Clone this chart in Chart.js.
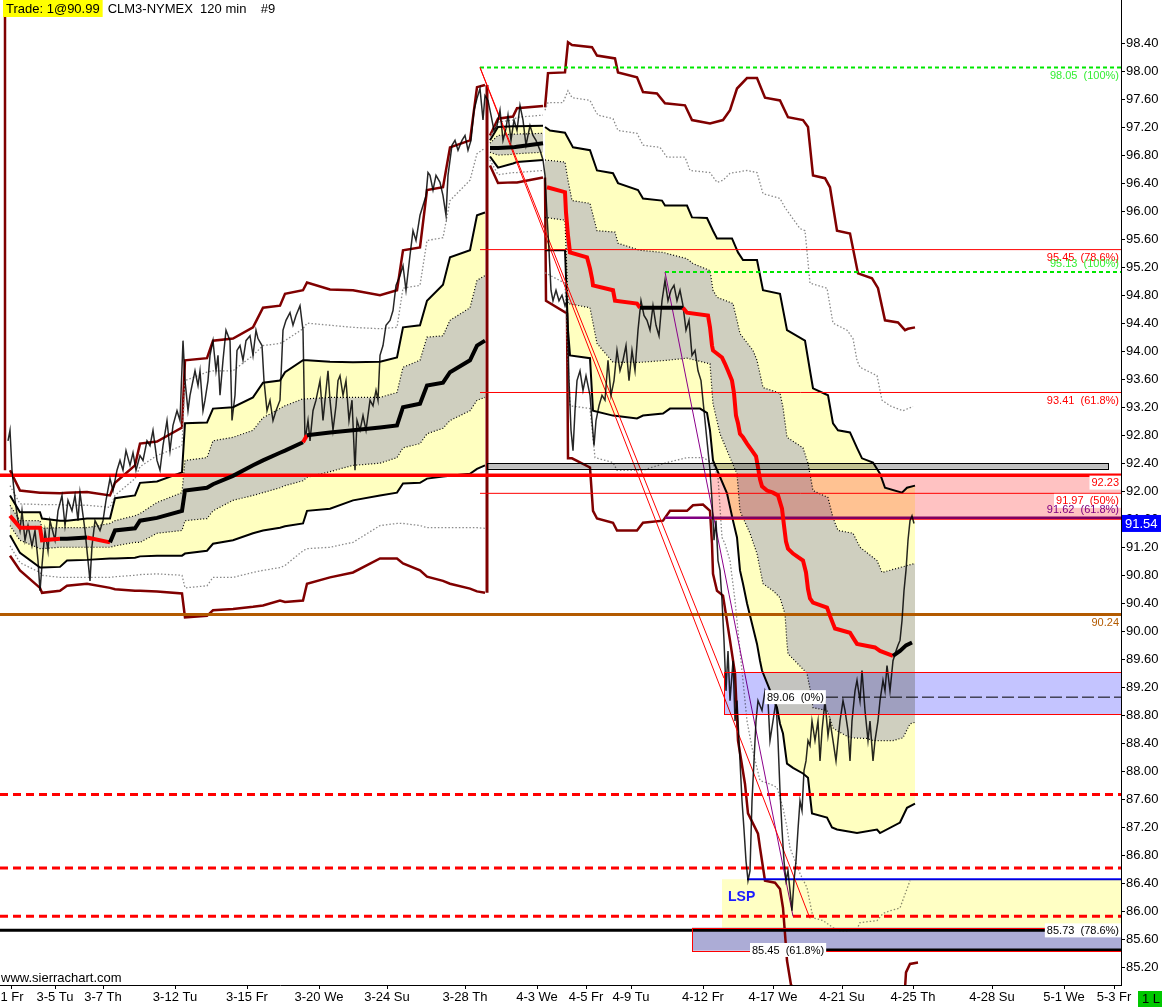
<!DOCTYPE html>
<html>
<head>
<meta charset="utf-8">
<title>CLM3-NYMEX 120 min</title>
<style>
  html, body { margin: 0; padding: 0; background: #fff; }
  canvas { display: block; }
</style>
<script src="https://cdn.jsdelivr.net/npm/chart.js@4.4.1/dist/chart.umd.min.js"></script>
</head>
<body>
<canvas id="chart" width="1162" height="1007"></canvas>
<script>
// x values are bar slot positions on the time axis, y values are prices
const xMax = 1121;
const yMin = 84.95;
const yMax = 99.014;

const tickPos = [12, 55, 103, 175, 247, 319, 387, 465, 537, 586, 631, 703, 773, 842, 913, 992, 1064, 1114];
const tickLabels = ['1 Fr', '3-5 Tu', '3-7 Th', '3-12 Tu', '3-15 Fr', '3-20 We', '3-24 Su', '3-28 Th', '4-3 We',
  '4-5 Fr', '4-9 Tu', '4-12 Fr', '4-17 We', '4-21 Su', '4-25 Th', '4-28 Su', '5-1 We', '5-3 Fr'];
const yTicks = [85.2, 85.6, 86.0, 86.4, 86.8, 87.2, 87.6, 88.0, 88.4, 88.8, 89.2, 89.6, 90.0, 90.4, 90.8, 91.2,
  91.6, 92.0, 92.4, 92.8, 93.2, 93.6, 94.0, 94.4, 94.8, 95.2, 95.6, 96.0, 96.4, 96.8, 97.2, 97.6, 98.0, 98.4];

// price path (close / swing points)
const price = [
  [8,92.72],[10,92.87],[12,92.30],[15,91.87],[18,91.58],[20,91.44],[22,91.72],[25,91.30],[28,91.51],[32,91.22],
  [35,91.44],[38,91.01],[40,90.58],[42,90.94],[45,91.44],[48,91.15],[50,91.58],[55,91.30],[58,91.72],[62,91.94],
  [65,91.51],[68,91.87],[72,91.72],[75,91.94],[78,91.58],[80,91.98],[85,91.44],[88,91.01],[90,90.72],[92,91.22],
  [95,91.58],[100,91.44],[103,91.58],[106,91.87],[110,92.18],[113,92.01],[117,92.30],[120,92.44],[123,92.30],[126,92.58],
  [130,92.37],[133,92.55],[136,92.30],[140,92.51],[143,92.44],[147,92.72],[150,92.65],[153,92.87],[157,92.44],[160,92.30],
  [163,92.65],[167,93.01],[170,92.58],[173,92.94],[177,93.15],[180,93.01],[183,94.15],[185,93.58],[188,93.15],[190,93.37],
  [195,93.72],[198,93.51],[200,93.72],[203,93.15],[205,93.30],[208,93.58],[210,93.94],[213,94.15],[216,93.72],[218,93.94],
  [220,93.37],[223,93.87],[226,94.30],[230,94.15],[232,93.01],[235,93.37],[237,94.01],[240,94.08],[243,93.87],[246,94.15],
  [250,94.22],[253,93.94],[256,94.30],[258,94.18],[262,94.08],[264,93.58],[267,93.15],[270,93.30],[273,93.01],[276,93.15],
  [280,93.30],[283,94.30],[286,94.44],[290,94.55],[293,94.37],[296,94.51],[300,94.65],[303,94.30],[305,92.72],[308,93.01],
  [310,92.72],[313,93.15],[316,93.30],[320,93.58],[323,93.01],[326,93.44],[328,93.72],[330,93.30],[333,92.87],[336,93.22],
  [338,93.58],[340,93.65],[343,93.37],[346,93.58],[349,93.01],[352,93.30],[355,92.30],[357,93.01],[360,92.87],[363,93.08],
  [366,92.87],[370,93.30],[373,93.22],[376,93.44],[378,93.30],[380,93.94],[383,94.08],[386,94.37],[390,94.44],[393,94.58],
  [396,94.94],[400,95.08],[403,95.22],[406,94.87],[410,95.37],[413,95.72],[416,95.58],[420,95.94],[423,96.08],[426,96.22],
  [428,96.55],[430,96.51],[433,96.30],[436,96.51],[440,96.41],[443,96.22],[446,95.94],[448,96.51],[452,96.94],[455,97.01],
  [458,96.87],[462,97.01],[465,97.08],[468,96.87],[471,97.01],[474,97.44],[477,97.61],[480,97.75],[483,97.30],[485,97.65],
  [488,97.58],[491,97.37],[494,97.15],[497,97.22],[500,97.44],[503,97.01],[506,97.18],[508,97.37],[511,97.01],[514,97.30],
  [517,97.15],[520,97.51],[523,97.30],[526,96.94],[530,97.22],[533,97.08],[536,97.01],[540,96.87],[543,96.73],[545,96.51],
  [547,95.94],[549,95.44],[551,94.87],[553,94.72],[556,94.87],[559,94.72],[562,94.80],[565,94.65],[567,94.72],[569,93.58],
  [571,92.87],[573,92.58],[575,93.15],[577,93.58],[580,93.72],[583,93.44],[586,93.65],[590,93.37],[592,93.01],[594,92.65],
  [596,93.01],[599,93.22],[602,93.37],[605,93.30],[608,93.87],[611,93.37],[614,93.58],[617,94.01],[620,93.72],[623,93.87],
  [626,94.08],[629,93.58],[632,94.01],[635,93.72],[638,94.30],[641,94.72],[644,94.51],[647,94.44],[650,94.30],[653,94.65],
  [656,94.37],[659,94.22],[662,94.72],[665,95.01],[668,94.72],[671,94.87],[674,94.94],[677,94.72],[680,94.87],[683,94.65],
  [686,94.30],[689,94.44],[692,93.94],[695,94.01],[698,93.72],[701,93.58],[704,93.15],[707,92.72],[710,92.30],[712,91.87],
  [714,91.30],[716,91.58],[718,91.01],[720,90.87],[722,90.44],[724,89.87],[726,89.15],[728,89.72],[730,89.01],[733,89.58],
  [735,88.72],[737,89.01],[740,88.15],[742,87.58],[744,87.17],[746,86.72],[748,86.44],[750,86.58],[752,87.58],[754,88.15],
  [756,88.72],[758,89.01],[760,88.94],[762,88.87],[765,89.15],[768,89.01],[770,88.44],[773,88.72],[776,89.01],[778,88.44],
  [780,87.72],[782,87.17],[784,86.72],[786,86.44],[788,86.58],[790,86.30],[792,86.01],[794,86.44],[796,86.72],[798,87.17],
  [800,87.58],[802,87.44],[804,88.01],[806,88.15],[808,88.44],[810,88.37],[812,88.72],[815,88.44],[818,88.72],[820,88.15],
  [822,88.58],[825,89.01],[828,88.51],[830,88.72],[833,88.44],[836,88.15],[838,88.44],[840,88.72],[843,89.01],[845,88.87],
  [848,88.58],[850,88.15],[852,88.72],[855,89.15],[857,89.30],[860,89.01],[862,89.44],[865,88.87],[868,88.44],[870,88.72],
  [873,88.15],[875,88.44],[878,88.72],[880,89.01],[883,89.30],[885,89.15],[887,89.51],[890,89.15],[893,89.58],[896,89.72],
  [898,89.80],[900,89.87],[902,90.15],[904,90.58],[906,90.87],[908,91.30],[910,91.58],[912,91.65],[914,91.54]
];

// anchored VWAP session 1 (3-1 .. 3-28)
const xA = [10,20,40,42,60,67,87,110,115,135,140,157,182,185,207,213,233,253,263,280,285,303,307,330,353,380,397,403,420,427,443,450,470,477,485];
const outerUpA = [92.30,92.01,91.98,91.98,91.97,91.98,91.99,91.94,92.12,92.37,92.68,92.71,92.91,93.87,93.90,94.15,94.18,94.34,94.62,94.65,94.82,94.87,94.98,94.88,94.87,94.80,94.87,95.44,95.48,96.30,96.34,96.91,97.01,97.77,97.80];
const grayUpA = [92.08,91.82,91.81,91.81,91.81,91.80,91.80,91.77,91.94,92.18,92.35,92.51,92.65,93.58,93.70,93.72,93.72,93.94,94.08,94.11,94.15,94.32,94.40,94.37,94.34,94.32,94.34,94.90,94.94,95.58,95.62,96.15,96.44,96.82,96.90];
const band2UpA = [91.94,91.70,91.70,91.61,91.58,91.58,91.61,91.61,91.90,91.94,92.12,92.14,92.27,92.97,92.98,93.18,93.20,93.34,93.55,93.58,93.70,93.87,93.87,93.85,93.84,93.85,93.91,94.34,94.37,94.72,94.95,95.34,95.44,95.94,95.98];
const band1UpA = [91.80,91.58,91.58,91.47,91.48,91.48,91.48,91.54,91.58,91.65,91.68,91.84,91.98,92.44,92.48,92.72,92.77,92.87,93.05,93.18,93.22,93.32,93.32,93.34,93.34,93.34,93.41,93.77,93.87,94.20,94.22,94.44,94.62,95.01,95.08];
const vwapA = [91.65,91.48,91.48,91.30,91.32,91.32,91.34,91.27,91.44,91.47,91.58,91.62,91.72,92.01,92.05,92.10,92.22,92.37,92.44,92.55,92.58,92.70,92.80,92.84,92.87,92.91,92.94,93.20,93.25,93.51,93.55,93.70,93.87,94.08,94.15];
const band1LoA = [91.51,91.30,91.18,91.18,91.20,91.20,91.20,91.20,91.22,91.27,91.27,91.40,91.44,91.58,91.61,91.72,91.87,91.94,91.98,92.05,92.08,92.15,92.20,92.28,92.37,92.40,92.48,92.62,92.68,92.82,92.90,93.01,93.15,93.30,93.34];
const band2LoA = [91.37,91.12,90.91,90.91,90.92,91.01,91.02,91.04,91.04,91.05,91.07,91.08,91.08,91.11,91.15,91.25,91.30,91.40,91.44,91.48,91.50,91.54,91.72,91.75,91.87,91.94,91.98,92.11,92.12,92.18,92.21,92.22,92.25,92.32,92.37];
const grayLoA = [91.22,90.98,90.84,90.80,90.77,90.77,90.77,90.77,90.78,90.80,90.81,90.82,90.80,90.62,90.65,90.77,90.77,90.84,90.87,90.91,90.94,91.15,91.18,91.20,91.27,91.51,91.54,91.54,91.51,91.48,91.48,91.48,91.48,91.48,91.47];
const outerLoA = [91.08,90.87,90.62,90.55,90.58,90.65,90.68,90.62,90.60,90.58,90.58,90.57,90.54,90.20,90.22,90.30,90.32,90.35,90.37,90.44,90.42,90.44,90.68,90.77,90.84,91.04,91.04,90.97,90.87,90.78,90.72,90.68,90.61,90.57,90.55];
const vwapRedA = [[10, 58], [87, 100], [303, 308], [352, 366]];

// session 2 (3-28 .. 4-3)
const xB = [490, 498, 513, 517, 543];
const outerUpB = [97.08, 97.32, 97.35, 97.47, 97.50];
const grayUpB = [97.05, 97.27, 97.30, 97.34, 97.37];
const band2UpB = [97.01, 97.20, 97.21, 97.21, 97.22];
const band1UpB = [96.97, 97.08, 97.10, 97.10, 97.11];
const vwapB = [96.90, 96.90, 96.91, 96.92, 96.97];
const band1LoB = [96.84, 96.80, 96.81, 96.82, 96.84];
const band2LoB = [96.78, 96.62, 96.68, 96.70, 96.73];
const grayLoB = [96.73, 96.52, 96.55, 96.55, 96.58];
const outerLoB = [96.65, 96.40, 96.41, 96.41, 96.48];

// session 3 (4-3 ..)
const outerUpC = [[545,97.48],[548,97.97],[565,97.98],[568,98.41],[572,98.37],[592,98.34],[597,98.22],[615,98.18],[618,97.98],[637,97.91],[643,97.70],[657,97.68],[665,97.54],[685,97.51],[692,97.30],[710,97.25],[723,97.30],[730,97.44],[737,97.75],[747,97.90],[757,97.90],[765,97.62],[780,97.58],[788,97.34],[803,97.30],[808,97.20],[813,96.51],[825,96.47],[830,96.34],[837,95.72],[850,95.68],[858,95.11],[872,95.04],[878,94.90],[885,94.44],[898,94.41],[905,94.30],[908,94.32],[915,94.34]];
const grayUpC = [[545,97.44],[548,97.55],[563,97.55],[568,97.72],[572,97.62],[590,97.58],[595,97.44],[598,97.37],[613,97.32],[618,97.15],[637,97.11],[643,96.94],[660,96.91],[667,96.77],[685,96.77],[690,96.58],[710,96.55],[717,96.41],[723,96.44],[730,96.54],[747,96.58],[757,96.55],[763,96.25],[780,96.18],[785,96.05],[800,95.75],[805,95.72],[810,94.97],[827,94.90],[833,94.40],[847,94.30],[853,94.18],[857,93.87],[860,93.77],[877,93.65],[882,93.30],[890,93.22],[903,93.15],[913,93.21]];
const band2UpC = [[545,97.20],[550,97.15],[565,97.12],[573,96.91],[590,96.87],[597,96.58],[613,96.54],[618,96.40],[638,96.30],[643,96.18],[662,96.15],[665,96.08],[687,96.08],[692,95.91],[707,95.90],[713,95.72],[717,95.61],[732,95.61],[738,95.41],[743,95.30],[757,95.30],[763,94.87],[780,94.82],[787,94.30],[805,94.15],[810,93.72],[813,93.47],[828,93.37],[833,92.97],[838,92.87],[850,92.84],[857,92.62],[862,92.47],[873,92.41],[880,92.25],[885,92.05],[902,91.98],[907,92.05],[915,92.08]];
const band1UpC = [[545,96.73],[565,96.70],[568,96.44],[572,96.15],[590,96.11],[597,95.72],[615,95.70],[618,95.54],[640,95.44],[663,95.41],[687,95.32],[693,95.25],[710,95.15],[713,94.87],[717,94.77],[733,94.68],[737,94.44],[740,94.25],[753,94.01],[757,93.87],[763,93.48],[780,93.40],[783,93.20],[787,92.77],[803,92.62],[808,92.40],[813,92.01],[828,91.91],[833,91.62],[838,91.44],[853,91.40],[860,91.20],[877,91.01],[882,90.84],[915,90.97]];
const vwapC = [[547,96.34],[565,96.27],[566,95.98],[568,95.65],[570,95.41],[587,95.34],[590,95.18],[592,95.04],[593,94.94],[613,94.87],[615,94.72],[637,94.68],[640,94.62],[683,94.62],[687,94.55],[708,94.51],[710,94.34],[712,94.08],[713,94.01],[722,93.91],[725,93.82],[728,93.72],[732,93.58],[734,93.40],[736,93.08],[738,92.97],[740,92.82],[743,92.77],[747,92.68],[752,92.58],[756,92.50],[758,92.34],[760,92.17],[762,92.07],[767,92.01],[773,91.98],[778,91.94],[782,91.75],[784,91.51],[786,91.28],[788,91.18],[793,91.11],[803,91.01],[806,90.84],[808,90.60],[810,90.47],[813,90.41],[827,90.34],[830,90.22],[833,90.11],[835,90.04],[850,89.98],[853,89.91],[857,89.82],[875,89.77],[880,89.72],[893,89.65],[900,89.72],[906,89.80],[912,89.84]];
const band1LoC = [[545,95.91],[565,95.87],[568,94.68],[590,94.62],[597,94.11],[613,93.84],[640,93.84],[667,93.87],[687,93.90],[710,93.82],[713,93.25],[720,92.82],[730,92.48],[737,92.25],[740,91.72],[743,91.62],[750,91.40],[757,91.11],[763,90.68],[773,90.58],[780,90.48],[785,90.25],[787,89.82],[788,89.68],[807,89.40],[810,89.18],[813,88.91],[827,88.87],[833,88.62],[837,88.58],[850,88.48],[867,88.47],[873,88.44],[893,88.44],[903,88.48],[910,88.68],[915,88.70]];
const band2LoC = [[545,95.44],[565,95.44],[568,94.30],[570,93.94],[590,93.90],[593,93.15],[613,93.08],[637,93.04],[643,93.08],[663,93.11],[670,93.18],[700,93.18],[707,93.12],[710,92.87],[713,92.44],[727,91.97],[733,91.58],[737,91.34],[740,90.87],[743,90.68],[747,90.40],[757,89.82],[760,89.58],[762,89.44],[777,88.91],[780,88.68],[783,88.54],[787,88.11],[793,88.05],[803,87.97],[808,87.91],[812,87.40],[827,87.34],[832,87.20],[837,87.17],[857,87.12],[877,87.17],[880,87.12],[900,87.27],[907,87.48],[915,87.54]];
const grayLoC = [[545,95.12],[565,94.97],[570,93.22],[590,93.18],[595,92.48],[613,92.41],[617,92.30],[643,92.30],[667,92.41],[687,92.48],[703,92.48],[713,92.40],[718,92.20],[722,91.34],[725,91.25],[730,91.01],[735,90.44],[740,89.72],[747,88.72],[752,88.34],[760,87.87],[770,87.82],[777,87.77],[783,87.48],[787,87.20],[790,86.91],[800,86.54],[807,86.34],[813,85.91],[823,85.87],[833,85.77],[840,85.72],[847,85.72],[857,85.75],[860,85.84],[877,85.87],[883,85.97],[890,86.01],[900,86.05],[910,86.44]];
const outerLoC = [[545,96.48],[546,94.72],[567,94.54],[568,92.47],[572,92.47],[590,92.34],[593,91.72],[597,91.61],[613,91.55],[617,91.44],[637,91.44],[643,91.55],[663,91.58],[670,91.72],[687,91.72],[693,91.80],[703,91.81],[710,91.72],[712,91.25],[713,90.82],[717,90.58],[723,90.51],[730,89.87],[735,89.40],[738,88.44],[745,87.82],[748,87.40],[758,87.11],[760,86.91],[765,86.44],[775,86.41],[780,86.32],[783,86.05],[785,85.68],[787,85.30],[791,84.95],[795,84.90],[830,84.58],[880,84.58],[905,84.90],[906,85.13],[910,85.25],[918,85.27]];
const vwapBlackC = [[640, 684], [893, 915]];

const prevUpper = [[5, 99.2], [5, 92.30]];
const sessionBreak = [[487, 97.80], [487, 90.55]];

// horizontal levels
const levelPrice = [98.05, 95.45, 95.13, 93.41, 92.23, 91.97, 91.62, 91.60, 90.24, 89.06, 87.67, 86.62, 86.46, 85.93, 85.73, 85.45];
const levelFrom  = [480, 480, 665, 480, 0, 480, 665, 712, 0, 826, 0, 0, 747, 0, 0, 826];
const levelTo    = [1121, 1121, 1121, 1121, 1121, 1121, 1121, 1121, 1121, 1121, 1121, 1121, 1121, 1121, 1048, 1121];

// fibonacci swing lines
const swingA = [[480, 98.05], [724, 89.33]];
const swingB = [[480, 98.05], [810, 85.90]];
const swingC = [[665, 95.13], [793, 85.93]];

// zones
const zoneTop    = [92.40, 92.23, 89.42, 86.46, 85.77];
const zoneBottom = [92.32, 91.60, 88.82, 85.77, 85.44];
const zoneFrom   = [487, 712, 724, 722, 692];
const zoneTo     = [1108, 1121, 1121, 1121, 1121];

// level labels
const fibPrices = [98.05, 95.45, 95.13, 93.41, 91.97, 91.62, 89.06, 85.73, 85.45];
const fibRatios = ['100%', '78.6%', '100%', '61.8%', '50%', '61.8%', '0%', '78.6%', '61.8%'];
const plainLevels = [92.23, 90.24];
const lastPrice = 91.54;

// ---- styles ----
const levelStyle = [
  { c: '#00e600', w: 2, d: [4, 3] },
  { c: '#ff0000', w: 1 },
  { c: '#00e600', w: 2, d: [4, 3] },
  { c: '#ff0000', w: 1 },
  { c: '#ff0000', w: 3.5 },
  { c: '#ff0000', w: 1 },
  { c: '#800080', w: 2.5 },
  { c: '#ff0000', w: 1 },
  { c: '#b35a00', w: 3 },
  { c: '#000000', w: 1, d: [12, 4] },
  { c: '#ff0000', w: 3, d: [8, 5] },
  { c: '#ff0000', w: 3, d: [8, 5] },
  { c: '#0000ff', w: 2 },
  { c: '#ff0000', w: 3, d: [8, 5] },
  { c: '#000000', w: 3 },
  { c: '#000000', w: 3 }
];
const zoneFill = ['#c0c0c0', '#ffc2c2', '#c4c4ff', '#ffffc4', '#acacd6'];
const zoneUnder = [false, false, false, false, true];
const zoneEdge = ['#000000', null, '#ff0000', null, '#ff0000'];
const fibStyle = [
  { c: '#33ee33', side: 'below' },
  { c: '#ff0000', side: 'below' },
  { c: '#33ee33', side: 'above' },
  { c: '#ff0000', side: 'below' },
  { c: '#ff0000', side: 'below', bg: '#ffffff' },
  { c: '#800080', side: 'above' },
  { c: '#000000', side: 'on', at: 767, bg: '#ffffff' },
  { c: '#000000', side: 'on', bg: '#ffffff' },
  { c: '#000000', side: 'on', at: 752, bg: '#ffffff' }
];
const plainStyle = [
  { c: '#ff0000', side: 'below', bg: '#ffffff' },
  { c: '#b35a00', side: 'below' }
];

const toPts = arr => arr.map(([x, y]) => ({ x, y }));
const zip = (xs, ys) => xs.map((x, i) => ({ x, y: ys[i] }));
const inSpans = (spans, c) => {
  const m = (c.p0.parsed.x + c.p1.parsed.x) / 2;
  return spans.some(([a, b]) => m >= a && m <= b);
};

const datasets = [];
function add(data, color, width, extra) {
  datasets.push(Object.assign({
    data: data, borderColor: color, borderWidth: width, pointRadius: 0,
    tension: 0, fill: false, order: 80, borderCapStyle: 'butt'
  }, extra || {}));
}

function session(outerUp, grayUp, band2Up, band1Up, band1Lo, band2Lo, grayLo, outerLo) {
  add(band2Up, '#000000', 2, { fill: '+1', backgroundColor: '#ffffc0', order: 100 });
  add(band2Lo, '#000000', 2);
  add(band1Up, '#000000', 1.2, { fill: '+1', backgroundColor: '#cfcfbf', borderDash: [1, 2], order: 90 });
  add(band1Lo, '#000000', 1.2, { borderDash: [1, 2] });
  add(grayUp, '#8a8a8a', 1.3, { borderDash: [1.5, 2] });
  add(grayLo, '#8a8a8a', 1.3, { borderDash: [1.5, 2] });
  add(outerUp, '#800000', 2.5);
  add(outerLo, '#800000', 2.5);
}

session(zip(xA, outerUpA), zip(xA, grayUpA), zip(xA, band2UpA), zip(xA, band1UpA),
        zip(xA, band1LoA), zip(xA, band2LoA), zip(xA, grayLoA), zip(xA, outerLoA));
session(zip(xB, outerUpB), zip(xB, grayUpB), zip(xB, band2UpB), zip(xB, band1UpB),
        zip(xB, band1LoB), zip(xB, band2LoB), zip(xB, grayLoB), zip(xB, outerLoB));
session(toPts(outerUpC), toPts(grayUpC), toPts(band2UpC), toPts(band1UpC),
        toPts(band1LoC), toPts(band2LoC), toPts(grayLoC), toPts(outerLoC));

add(toPts(prevUpper), '#800000', 2.5);
add(toPts(sessionBreak), '#800000', 3);

levelPrice.forEach((p, i) => {
  const s = levelStyle[i];
  add([{ x: levelFrom[i], y: p }, { x: levelTo[i], y: p }], s.c, s.w, { borderDash: s.d || [], order: 60 });
});

add(toPts(swingA), '#ff0000', 1, { order: 55 });
add(toPts(swingB), '#ff0000', 1, { order: 55 });
add(toPts(swingC), '#8b008b', 1, { order: 55 });

add(toPts(price), 'rgba(0,0,0,0.85)', 1.5, { order: 40 });

add(zip(xA, vwapA), '#000000', 4, { order: 30,
  segment: { borderColor: c => inSpans(vwapRedA, c) ? '#ff0000' : '#000000' } });
add(zip(xB, vwapB), '#000000', 4, { order: 30 });
add(toPts(vwapC), '#ff0000', 4, { order: 30,
  segment: { borderColor: c => inSpans(vwapBlackC, c) ? '#000000' : '#ff0000' } });

const labelFont = '11px "Liberation Sans", "DejaVu Sans", sans-serif';
function tag(ctx, text, px, py, alignRight, color, bg) {
  ctx.font = labelFont;
  const w = ctx.measureText(text).width;
  const left = alignRight ? px - w : px;
  if (bg) {
    ctx.fillStyle = bg;
    ctx.fillRect(left - 2, py - 7, w + 4, 14);
  }
  ctx.fillStyle = color;
  ctx.textAlign = 'left';
  ctx.textBaseline = 'middle';
  ctx.fillText(text, left, py + 0.5);
}

function zoneRect(x, y, i) {
  const x0 = x.getPixelForValue(zoneFrom[i]), x1 = x.getPixelForValue(zoneTo[i]);
  const y0 = y.getPixelForValue(zoneTop[i]), y1 = y.getPixelForValue(zoneBottom[i]);
  return [x0, y0, x1 - x0, y1 - y0];
}

const overlay = {
  id: 'overlay',
  beforeDatasetsDraw(chart) {
    const { ctx, scales: { x, y } } = chart;
    ctx.save();
    zoneTop.forEach((top, i) => {
      if (!zoneUnder[i]) return;
      ctx.fillStyle = zoneFill[i];
      ctx.fillRect(...zoneRect(x, y, i));
    });
    ctx.restore();
  },
  afterDatasetsDraw(chart) {
    const { ctx, chartArea: a, scales: { x, y } } = chart;
    ctx.save();
    ctx.beginPath();
    ctx.rect(a.left, a.top, a.right - a.left, a.bottom - a.top);
    ctx.clip();

    // translucent zones over the bands
    ctx.globalCompositeOperation = 'multiply';
    zoneTop.forEach((top, i) => {
      if (zoneUnder[i]) return;
      ctx.fillStyle = zoneFill[i];
      ctx.fillRect(...zoneRect(x, y, i));
    });
    ctx.globalCompositeOperation = 'source-over';
    zoneTop.forEach((top, i) => {
      if (!zoneEdge[i]) return;
      const [rx, ry, rw, rh] = zoneRect(x, y, i);
      ctx.strokeStyle = zoneEdge[i];
      ctx.lineWidth = 1;
      ctx.strokeRect(Math.round(rx) + 0.5, Math.round(ry) + 0.5, Math.round(rw), Math.round(rh));
    });

    // level labels
    const rightEdge = x.getPixelForValue(xMax) - 2;
    const offset = { below: 7.5, above: -8.5, on: 0 };
    fibPrices.forEach((p, i) => {
      const s = fibStyle[i];
      const txt = p.toFixed(2) + '  (' + fibRatios[i] + ')';
      const py = y.getPixelForValue(p) + offset[s.side];
      if (s.at !== undefined) tag(ctx, txt, x.getPixelForValue(s.at), py, false, s.c, s.bg);
      else tag(ctx, txt, rightEdge, py, true, s.c, s.bg);
    });
    plainLevels.forEach((p, i) => {
      const s = plainStyle[i];
      tag(ctx, p.toFixed(2), rightEdge, y.getPixelForValue(p) + offset[s.side], true, s.c, s.bg);
    });

    // LSP marker
    ctx.font = 'bold 14px "Liberation Sans", sans-serif';
    ctx.fillStyle = '#1a1aff';
    ctx.textBaseline = 'middle';
    ctx.fillText('LSP', x.getPixelForValue(728), y.getPixelForValue(86.20));
    ctx.restore();
  },
  afterDraw(chart) {
    const { ctx, chartArea: a, scales: { y } } = chart;
    ctx.save();
    ctx.font = '13px "Liberation Sans", sans-serif';
    ctx.textBaseline = 'alphabetic';
    ctx.textAlign = 'left';
    const head = 'Trade: 1@90.99';
    const hw = ctx.measureText(head).width;
    ctx.fillStyle = '#ffff00';
    ctx.fillRect(3, 0, hw + 6, 17);
    ctx.fillStyle = '#000000';
    ctx.fillText(head, 6, 13);
    ctx.fillText('CLM3-NYMEX  120 min    #9', hw + 14, 13);

    ctx.fillText('www.sierrachart.com', 1, 982);

    // last price tag on the axis
    const py = y.getPixelForValue(lastPrice);
    ctx.fillStyle = '#0000ff';
    ctx.fillRect(a.right + 1, py - 8.5, 39, 17);
    ctx.fillStyle = '#ffffff';
    ctx.textBaseline = 'middle';
    ctx.fillText(lastPrice.toFixed(2), a.right + 4, py + 0.5);

    ctx.fillStyle = '#00c800';
    ctx.fillRect(1138, 991, 24, 16);
    ctx.fillStyle = '#000000';
    ctx.fillText('1 L', 1142, 999.5);
    ctx.restore();
  }
};

new Chart(document.getElementById('chart'), {
  type: 'line',
  data: { datasets: datasets },
  options: {
    responsive: false,
    animation: false,
    events: [],
    layout: { padding: 0 },
    plugins: { legend: { display: false }, tooltip: { enabled: false } },
    scales: {
      x: {
        type: 'linear', min: 0, max: xMax,
        afterBuildTicks: s => { s.ticks = tickPos.map(v => ({ value: v })); },
        afterFit: s => { s.height = 22; s.paddingLeft = 0; s.paddingRight = 0; },
        ticks: {
          autoSkip: false, maxRotation: 0, padding: 1, color: '#000',
          font: { family: '"Liberation Sans"', size: 13 },
          callback: (v, i) => tickLabels[i]
        },
        grid: { drawOnChartArea: false, drawTicks: true, tickLength: 4, color: '#000' },
        border: { display: true, color: '#000', width: 1 }
      },
      y: {
        type: 'linear', position: 'right', min: yMin, max: yMax,
        afterBuildTicks: s => { s.ticks = yTicks.map(v => ({ value: v })); },
        afterFit: s => { s.width = 41; s.paddingTop = 0; s.paddingBottom = 0; },
        ticks: {
          padding: 1, color: '#000',
          font: { family: '"Liberation Sans"', size: 13 },
          callback: v => v.toFixed(2)
        },
        grid: { drawOnChartArea: false, drawTicks: true, tickLength: 4, color: '#000' },
        border: { display: true, color: '#000', width: 1 }
      }
    }
  },
  plugins: [overlay]
});
</script>
</body>
</html>
